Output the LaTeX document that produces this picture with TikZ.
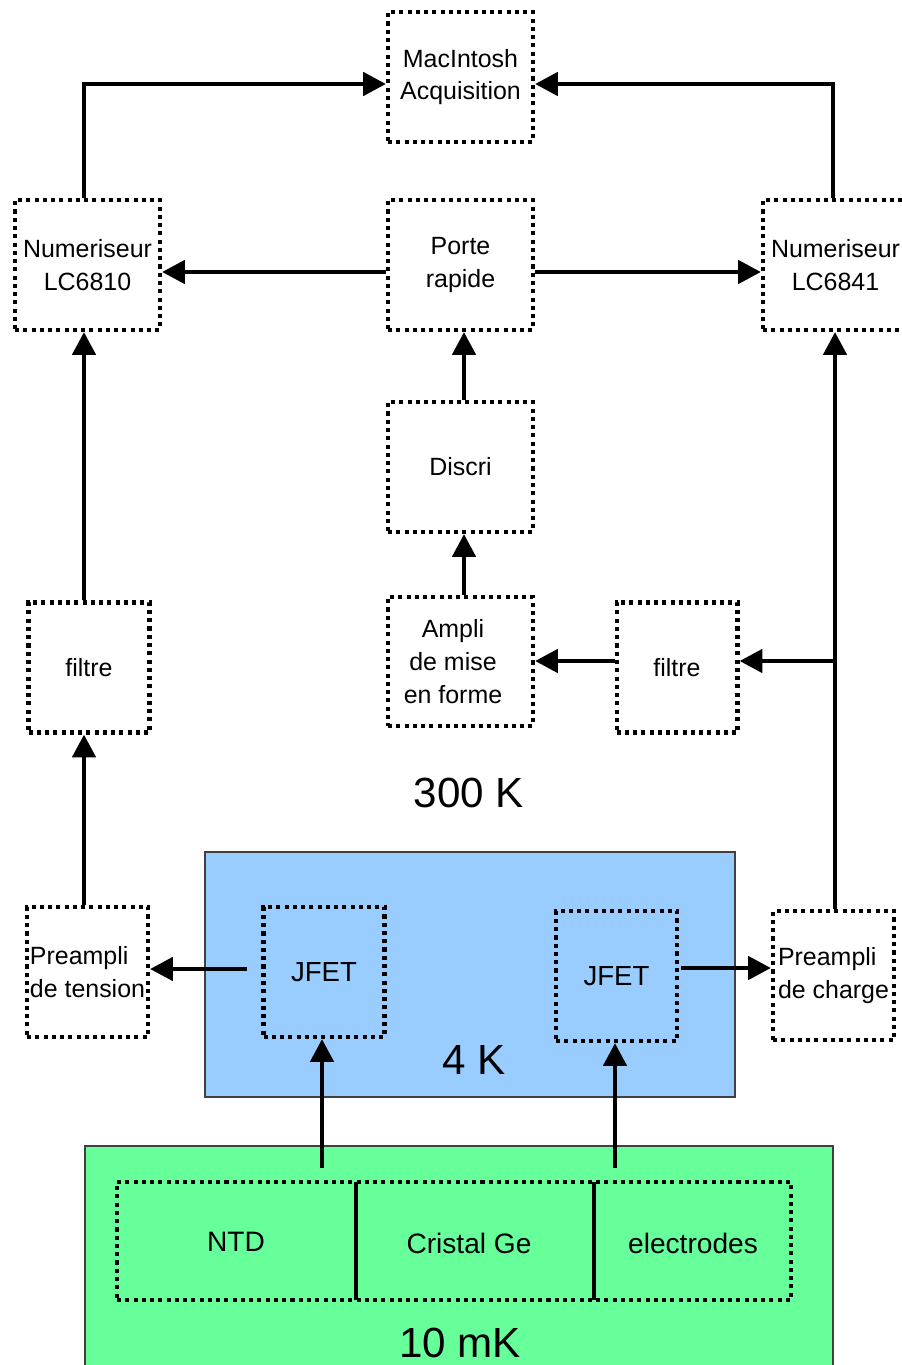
\documentclass[tikz,border=0pt]{standalone}
\usepackage{fontspec}
\setmainfont{Liberation Sans}
\usetikzlibrary{arrows.meta}
\definecolor{coldblue}{HTML}{99CCFF}
\definecolor{mkgreen}{HTML}{66FF99}
\definecolor{frame}{HTML}{404040}
\begin{document}
\begin{tikzpicture}[x=0.02cm,y=-0.02cm,
  dbox/.style={draw, line width=2.3pt, dash pattern=on 2.3pt off 2.4pt,
    minimum width=2.9cm, minimum height=2.6cm, align=center, inner sep=0pt,
    font=\fontsize{14.2}{18.7}\selectfont},
  sbox/.style={dbox, minimum width=2.42cm},
  arr/.style={line width=2.8pt, -{Triangle[length=13pt,width=13pt]}},
  temp/.style={font=\fontsize{24}{28}\selectfont},
  cell/.style={font=\fontsize{16}{20}\selectfont}]
\clip (0,0) rectangle (902,1365);
\fill[white] (0,0) rectangle (902,1365);
% temperature stages
\draw[fill=coldblue, draw=frame, line width=0.6pt] (205,852) rectangle (735,1097);
\draw[fill=mkgreen, draw=frame, line width=0.6pt] (85,1146) rectangle (833,1375);
% boxes
\node[dbox] (mac) at (460.5,77) {MacIntosh\\Acquisition};
\node[dbox] (num1) at (87.5,265) {Numeriseur\\LC6810};
\node[dbox] (porte) at (460.5,265) {Porte\\rapide};
\node[dbox] (num2) at (835.5,265) {Numeriseur\\LC6841};
\node[dbox] (discri) at (460.5,467) {Discri};
\node[dbox, minimum height=2.58cm] (ampli) at (460.5,661.5) {\hspace*{-0.3cm}Ampli\\\hspace*{-0.3cm}de mise\\\hspace*{-0.3cm}en forme};
\node[sbox] (filtreR) at (677,667.5) {filtre};
\node[sbox] (filtreL) at (89,667.5) {filtre};
\node[sbox, align=left] (pt) at (87.5,972) {Preampli\\de tension};
\node[sbox, align=left, minimum height=2.58cm] (pc) at (833.5,975.5) {Preampli\\de charge};
\node[sbox, font=\fontsize{15.7}{19}\selectfont] (jfet1) at (324,972) {JFET};
\node[sbox, font=\fontsize{15.7}{19}\selectfont] (jfet2) at (616.5,976) {JFET};
% detector
\node[dbox, minimum width=13.48cm, minimum height=2.36cm] (det) at (454,1241) {};
\draw[line width=1.9pt] (356,1182) -- (356,1300);
\draw[line width=1.9pt] (594,1182) -- (594,1300);
\node[cell] (ntd) at (236,1242) {NTD};
\node[cell] (ge) at (469,1243) {Cristal Ge};
\node[cell] (el) at (693,1243) {electrodes};
% temperature labels
\node[temp] (t300) at (469,793) {300 K};
\node[temp] (t4) at (474,1060) {4 K};
\node[temp] (t10) at (460,1343) {10 mK};
% connectors
\coordinate (topL) at (84,84);
\coordinate (topR) at (833,84);
\draw[arr] (num1.north -| topL) |- (mac.west |- topL);
\draw[arr] (num2.north -| topR) |- (mac.east |- topR);
\coordinate (mid) at (0,272);
\draw[arr] (porte.west |- mid) -- (num1.east |- mid);
\draw[arr] (porte.east |- mid) -- (num2.west |- mid);
\coordinate (cx) at (464,0);
\draw[arr] (discri.north -| cx) -- (porte.south -| cx);
\draw[arr] (ampli.north -| cx) -- (discri.south -| cx);
\coordinate (br) at (835,661);
\draw[arr] (pc.north -| br) -- (num2.south -| br);
\draw[arr] (br) -- (filtreR.east |- br);
\draw[arr] (filtreR.west |- br) -- (ampli.east |- br);
\draw[arr] (filtreL.north -| topL) -- (num1.south -| topL);
\draw[arr] (pt.north -| topL) -- (filtreL.south -| topL);
\coordinate (jl) at (247,969);
\draw[arr] (jl) -- (pt.east |- jl);
\coordinate (jr) at (681,968);
\draw[arr] (jr) -- (pc.west |- jr);
\coordinate (b1) at (322,1168);
\coordinate (b2) at (615,1168);
\draw[arr] (b1) -- (jfet1.south -| b1);
\draw[arr] (b2) -- (jfet2.south -| b2);
\end{tikzpicture}
\end{document}
